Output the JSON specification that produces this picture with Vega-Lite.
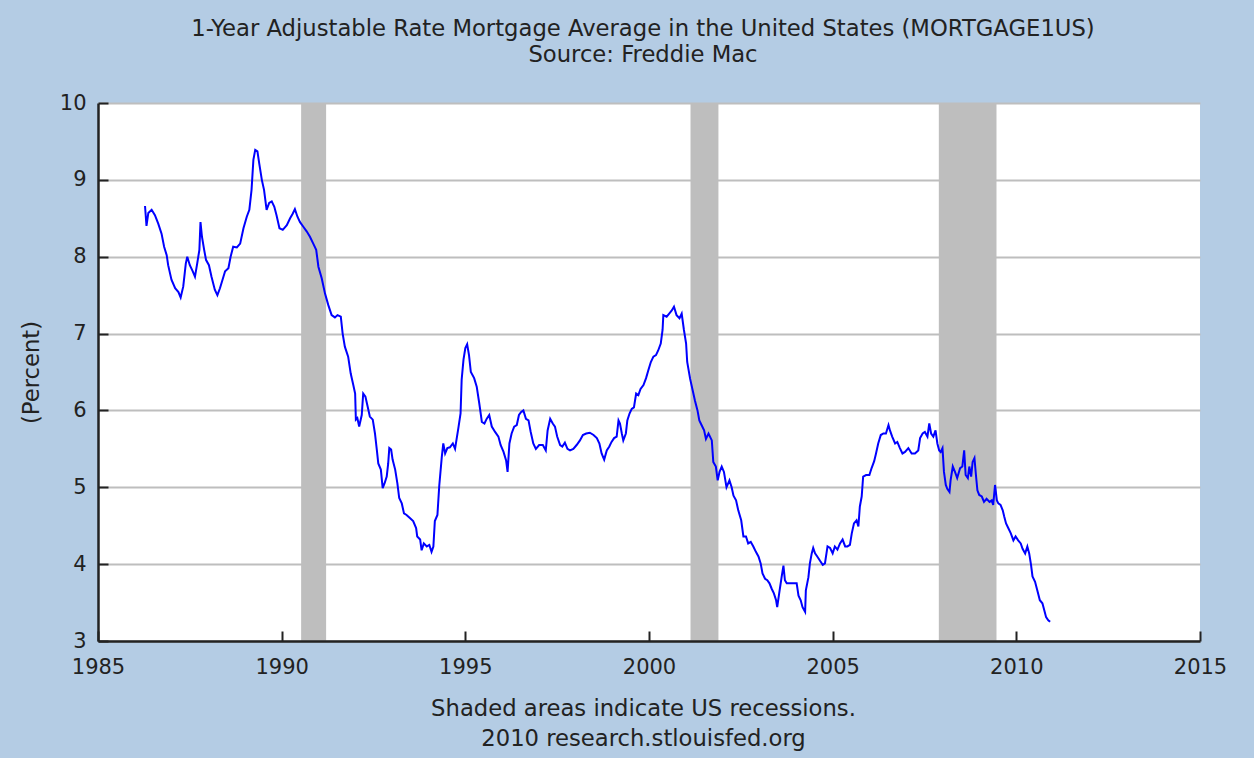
{
  "$schema": "https://vega.github.io/schema/vega-lite/v6.json",
  "width": 1102,
  "height": 538,
  "autosize": {"type": "none"},
  "padding": {"left": 98, "top": 103, "right": 54, "bottom": 117},
  "background": "#B4CCE4",
  "config": {"view": {"fill": "white", "stroke": null}, "font": "DejaVu Sans"},
  "title": {
    "text": "1-Year Adjustable Rate Mortgage Average in the United States (MORTGAGE1US)",
    "subtitle": "Source: Freddie Mac",
    "fontSize": 22.7, "subtitleFontSize": 22.7, "fontWeight": "normal",
    "font": "DejaVu Sans", "subtitleFont": "DejaVu Sans",
    "color": "#222222", "subtitleColor": "#222222",
    "anchor": "middle", "offset": 25, "subtitlePadding": 4, "dx": -6
  },
  "layer": [
    {
      "data": {"values": [
        {"start": 1990.53, "end": 1991.21},
        {"start": 2001.13, "end": 2001.89},
        {"start": 2007.89, "end": 2009.46}
      ]},
      "mark": {"type": "rect", "color": "#BEBEBE"},
      "encoding": {
        "x": {"field": "start", "type": "quantitative",
          "scale": {"domain": [1985, 2015], "nice": false, "zero": false},
          "axis": {"values": [1985, 1990, 1995, 2000, 2005, 2010, 2015], "format": "d", "grid": false,
            "tickSize": -10, "tickColor": "#222222", "tickWidth": 2,
            "domainColor": "#222222", "domainWidth": 2.5,
            "labelFontSize": 21, "labelColor": "#222222", "labelPadding": 25, "labelFlush": false,
            "title": ["Shaded areas indicate US recessions.", "2010 research.stlouisfed.org"],
            "titleFontSize": 22.7, "titleFontWeight": "normal", "titleColor": "#222222",
            "titleLineHeight": 30, "titlePadding": 20, "titleX": 545, "zindex": 1}},
        "x2": {"field": "end"}
      }
    },
    {
      "data": {"values": [
        {"t":1986.28,"v":8.66},{"t":1986.32,"v":8.40},{"t":1986.37,"v":8.57},{"t":1986.46,"v":8.61},{"t":1986.55,"v":8.54},
        {"t":1986.64,"v":8.43},{"t":1986.73,"v":8.30},{"t":1986.80,"v":8.13},{"t":1986.87,"v":8.02},{"t":1986.91,"v":7.89},
        {"t":1987.00,"v":7.70},{"t":1987.10,"v":7.59},{"t":1987.19,"v":7.54},{"t":1987.25,"v":7.47},{"t":1987.32,"v":7.61},
        {"t":1987.39,"v":7.91},{"t":1987.43,"v":8.00},{"t":1987.50,"v":7.89},{"t":1987.58,"v":7.81},{"t":1987.64,"v":7.74},
        {"t":1987.70,"v":7.91},{"t":1987.76,"v":8.09},{"t":1987.79,"v":8.45},{"t":1987.83,"v":8.26},{"t":1987.89,"v":8.09},
        {"t":1987.94,"v":7.96},{"t":1988.02,"v":7.89},{"t":1988.09,"v":7.74},{"t":1988.18,"v":7.57},{"t":1988.25,"v":7.50},
        {"t":1988.32,"v":7.59},{"t":1988.39,"v":7.70},{"t":1988.46,"v":7.81},{"t":1988.55,"v":7.85},{"t":1988.61,"v":8.00},
        {"t":1988.68,"v":8.13},{"t":1988.78,"v":8.12},{"t":1988.87,"v":8.17},{"t":1988.96,"v":8.37},{"t":1989.05,"v":8.52},
        {"t":1989.12,"v":8.61},{"t":1989.18,"v":8.87},{"t":1989.23,"v":9.26},{"t":1989.28,"v":9.39},{"t":1989.34,"v":9.37},
        {"t":1989.39,"v":9.21},{"t":1989.46,"v":9.00},{"t":1989.52,"v":8.87},{"t":1989.59,"v":8.61},{"t":1989.66,"v":8.70},
        {"t":1989.73,"v":8.72},{"t":1989.80,"v":8.65},{"t":1989.86,"v":8.54},{"t":1989.94,"v":8.37},{"t":1990.03,"v":8.35},
        {"t":1990.14,"v":8.41},{"t":1990.23,"v":8.50},{"t":1990.30,"v":8.56},{"t":1990.36,"v":8.62},{"t":1990.43,"v":8.52},
        {"t":1990.50,"v":8.45},{"t":1990.59,"v":8.39},{"t":1990.68,"v":8.33},{"t":1990.77,"v":8.26},{"t":1990.86,"v":8.17},
        {"t":1990.94,"v":8.09},{"t":1991.00,"v":7.87},{"t":1991.09,"v":7.72},{"t":1991.18,"v":7.52},{"t":1991.27,"v":7.37},
        {"t":1991.36,"v":7.24},{"t":1991.45,"v":7.21},{"t":1991.52,"v":7.24},{"t":1991.61,"v":7.22},{"t":1991.66,"v":7.00},
        {"t":1991.72,"v":6.83},{"t":1991.81,"v":6.70},{"t":1991.88,"v":6.48},{"t":1991.95,"v":6.33},{"t":1992.00,"v":6.22},
        {"t":1992.02,"v":5.88},{"t":1992.06,"v":5.90},{"t":1992.11,"v":5.79},{"t":1992.18,"v":5.94},{"t":1992.22,"v":6.22},
        {"t":1992.28,"v":6.18},{"t":1992.34,"v":6.05},{"t":1992.40,"v":5.92},{"t":1992.48,"v":5.88},{"t":1992.54,"v":5.70},
        {"t":1992.59,"v":5.49},{"t":1992.63,"v":5.31},{"t":1992.70,"v":5.23},{"t":1992.75,"v":4.99},{"t":1992.80,"v":5.05},
        {"t":1992.86,"v":5.14},{"t":1992.90,"v":5.31},{"t":1992.93,"v":5.51},{"t":1992.98,"v":5.49},{"t":1993.02,"v":5.36},
        {"t":1993.09,"v":5.23},{"t":1993.15,"v":5.05},{"t":1993.20,"v":4.86},{"t":1993.27,"v":4.79},{"t":1993.33,"v":4.66},
        {"t":1993.40,"v":4.64},{"t":1993.49,"v":4.60},{"t":1993.58,"v":4.56},{"t":1993.66,"v":4.47},{"t":1993.69,"v":4.36},
        {"t":1993.77,"v":4.32},{"t":1993.81,"v":4.18},{"t":1993.87,"v":4.27},{"t":1993.95,"v":4.23},{"t":1994.02,"v":4.25},
        {"t":1994.08,"v":4.16},{"t":1994.13,"v":4.23},{"t":1994.17,"v":4.56},{"t":1994.24,"v":4.64},{"t":1994.29,"v":5.02},
        {"t":1994.36,"v":5.40},{"t":1994.40,"v":5.57},{"t":1994.45,"v":5.44},{"t":1994.51,"v":5.51},{"t":1994.58,"v":5.52},
        {"t":1994.66,"v":5.57},{"t":1994.72,"v":5.50},{"t":1994.76,"v":5.62},{"t":1994.81,"v":5.77},{"t":1994.87,"v":5.96},
        {"t":1994.90,"v":6.40},{"t":1994.95,"v":6.66},{"t":1995.00,"v":6.81},{"t":1995.05,"v":6.86},{"t":1995.10,"v":6.72},
        {"t":1995.15,"v":6.50},{"t":1995.24,"v":6.42},{"t":1995.31,"v":6.31},{"t":1995.38,"v":6.09},{"t":1995.45,"v":5.85},
        {"t":1995.52,"v":5.83},{"t":1995.58,"v":5.89},{"t":1995.65,"v":5.94},{"t":1995.72,"v":5.79},{"t":1995.81,"v":5.72},
        {"t":1995.90,"v":5.66},{"t":1995.96,"v":5.55},{"t":1996.04,"v":5.46},{"t":1996.11,"v":5.35},{"t":1996.15,"v":5.20},
        {"t":1996.20,"v":5.57},{"t":1996.26,"v":5.70},{"t":1996.33,"v":5.79},{"t":1996.40,"v":5.81},{"t":1996.46,"v":5.94},
        {"t":1996.52,"v":5.98},{"t":1996.58,"v":6.00},{"t":1996.65,"v":5.89},{"t":1996.72,"v":5.87},{"t":1996.78,"v":5.72},
        {"t":1996.85,"v":5.57},{"t":1996.92,"v":5.50},{"t":1997.01,"v":5.55},{"t":1997.11,"v":5.55},{"t":1997.19,"v":5.48},
        {"t":1997.24,"v":5.74},{"t":1997.31,"v":5.89},{"t":1997.38,"v":5.83},{"t":1997.44,"v":5.79},{"t":1997.50,"v":5.66},
        {"t":1997.58,"v":5.55},{"t":1997.64,"v":5.53},{"t":1997.71,"v":5.58},{"t":1997.78,"v":5.50},{"t":1997.85,"v":5.48},
        {"t":1997.94,"v":5.50},{"t":1998.03,"v":5.55},{"t":1998.12,"v":5.61},{"t":1998.20,"v":5.68},{"t":1998.29,"v":5.70},
        {"t":1998.39,"v":5.71},{"t":1998.49,"v":5.68},{"t":1998.58,"v":5.64},{"t":1998.65,"v":5.57},{"t":1998.71,"v":5.44},
        {"t":1998.78,"v":5.36},{"t":1998.85,"v":5.48},{"t":1998.92,"v":5.53},{"t":1998.98,"v":5.59},{"t":1999.05,"v":5.64},
        {"t":1999.12,"v":5.66},{"t":1999.17,"v":5.87},{"t":1999.21,"v":5.83},{"t":1999.26,"v":5.70},{"t":1999.30,"v":5.61},
        {"t":1999.37,"v":5.70},{"t":1999.41,"v":5.87},{"t":1999.47,"v":5.96},{"t":1999.53,"v":6.02},{"t":1999.59,"v":6.04},
        {"t":1999.65,"v":6.22},{"t":1999.71,"v":6.20},{"t":1999.77,"v":6.28},{"t":1999.85,"v":6.33},{"t":1999.92,"v":6.42},
        {"t":1999.98,"v":6.52},{"t":2000.05,"v":6.63},{"t":2000.12,"v":6.70},{"t":2000.19,"v":6.72},{"t":2000.25,"v":6.78},
        {"t":2000.32,"v":6.87},{"t":2000.37,"v":7.05},{"t":2000.39,"v":7.24},{"t":2000.48,"v":7.22},{"t":2000.55,"v":7.26},
        {"t":2000.62,"v":7.30},{"t":2000.68,"v":7.35},{"t":2000.75,"v":7.24},{"t":2000.83,"v":7.20},{"t":2000.89,"v":7.26},
        {"t":2000.95,"v":7.05},{"t":2001.01,"v":6.87},{"t":2001.04,"v":6.63},{"t":2001.12,"v":6.41},{"t":2001.19,"v":6.26},
        {"t":2001.25,"v":6.13},{"t":2001.32,"v":6.00},{"t":2001.37,"v":5.87},{"t":2001.43,"v":5.81},{"t":2001.50,"v":5.74},
        {"t":2001.55,"v":5.63},{"t":2001.62,"v":5.70},{"t":2001.71,"v":5.61},{"t":2001.75,"v":5.33},{"t":2001.82,"v":5.27},
        {"t":2001.87,"v":5.09},{"t":2001.92,"v":5.20},{"t":2001.98,"v":5.27},{"t":2002.04,"v":5.20},{"t":2002.11,"v":5.00},
        {"t":2002.19,"v":5.09},{"t":2002.25,"v":5.00},{"t":2002.30,"v":4.89},{"t":2002.37,"v":4.83},{"t":2002.43,"v":4.70},
        {"t":2002.51,"v":4.57},{"t":2002.57,"v":4.36},{"t":2002.64,"v":4.36},{"t":2002.70,"v":4.27},{"t":2002.77,"v":4.29},
        {"t":2002.84,"v":4.23},{"t":2002.91,"v":4.16},{"t":2002.98,"v":4.10},{"t":2003.04,"v":4.01},{"t":2003.09,"v":3.88},
        {"t":2003.16,"v":3.81},{"t":2003.22,"v":3.79},{"t":2003.28,"v":3.75},{"t":2003.34,"v":3.68},{"t":2003.40,"v":3.62},
        {"t":2003.46,"v":3.53},{"t":2003.49,"v":3.44},{"t":2003.55,"v":3.64},{"t":2003.61,"v":3.83},{"t":2003.66,"v":3.98},
        {"t":2003.70,"v":3.79},{"t":2003.75,"v":3.75},{"t":2003.84,"v":3.75},{"t":2003.93,"v":3.75},{"t":2004.02,"v":3.75},
        {"t":2004.07,"v":3.59},{"t":2004.13,"v":3.53},{"t":2004.18,"v":3.44},{"t":2004.25,"v":3.38},{"t":2004.27,"v":3.66},
        {"t":2004.34,"v":3.83},{"t":2004.38,"v":4.01},{"t":2004.43,"v":4.14},{"t":2004.47,"v":4.21},{"t":2004.52,"v":4.14},
        {"t":2004.58,"v":4.10},{"t":2004.66,"v":4.04},{"t":2004.73,"v":3.99},{"t":2004.79,"v":4.01},{"t":2004.86,"v":4.23},
        {"t":2004.93,"v":4.21},{"t":2005.00,"v":4.14},{"t":2005.06,"v":4.23},{"t":2005.13,"v":4.19},{"t":2005.20,"v":4.27},
        {"t":2005.27,"v":4.32},{"t":2005.34,"v":4.23},{"t":2005.40,"v":4.23},{"t":2005.47,"v":4.25},{"t":2005.52,"v":4.40},
        {"t":2005.58,"v":4.53},{"t":2005.65,"v":4.57},{"t":2005.70,"v":4.49},{"t":2005.74,"v":4.75},{"t":2005.79,"v":4.88},
        {"t":2005.83,"v":5.14},{"t":2005.91,"v":5.16},{"t":2006.00,"v":5.16},{"t":2006.06,"v":5.25},{"t":2006.13,"v":5.34},
        {"t":2006.18,"v":5.44},{"t":2006.24,"v":5.57},{"t":2006.31,"v":5.68},{"t":2006.38,"v":5.70},{"t":2006.45,"v":5.70},
        {"t":2006.52,"v":5.81},{"t":2006.56,"v":5.74},{"t":2006.62,"v":5.66},{"t":2006.70,"v":5.57},{"t":2006.76,"v":5.59},
        {"t":2006.83,"v":5.51},{"t":2006.90,"v":5.44},{"t":2006.97,"v":5.46},{"t":2007.06,"v":5.51},{"t":2007.15,"v":5.44},
        {"t":2007.24,"v":5.44},{"t":2007.33,"v":5.48},{"t":2007.38,"v":5.64},{"t":2007.45,"v":5.70},{"t":2007.51,"v":5.72},
        {"t":2007.58,"v":5.66},{"t":2007.63,"v":5.83},{"t":2007.68,"v":5.70},{"t":2007.74,"v":5.66},{"t":2007.80,"v":5.74},
        {"t":2007.85,"v":5.57},{"t":2007.90,"v":5.48},{"t":2007.94,"v":5.46},{"t":2007.99,"v":5.51},{"t":2008.03,"v":5.20},
        {"t":2008.08,"v":5.03},{"t":2008.12,"v":4.98},{"t":2008.18,"v":4.94},{"t":2008.21,"v":5.09},{"t":2008.27,"v":5.27},
        {"t":2008.33,"v":5.20},{"t":2008.39,"v":5.12},{"t":2008.47,"v":5.25},{"t":2008.53,"v":5.27},{"t":2008.58,"v":5.48},
        {"t":2008.62,"v":5.16},{"t":2008.68,"v":5.12},{"t":2008.72,"v":5.27},{"t":2008.77,"v":5.14},{"t":2008.81,"v":5.33},
        {"t":2008.86,"v":5.38},{"t":2008.90,"v":5.16},{"t":2008.94,"v":4.96},{"t":2008.99,"v":4.90},{"t":2009.06,"v":4.88},
        {"t":2009.12,"v":4.81},{"t":2009.19,"v":4.85},{"t":2009.27,"v":4.81},{"t":2009.33,"v":4.83},{"t":2009.37,"v":4.77},
        {"t":2009.42,"v":5.03},{"t":2009.47,"v":4.83},{"t":2009.51,"v":4.79},{"t":2009.57,"v":4.77},{"t":2009.63,"v":4.70},
        {"t":2009.67,"v":4.62},{"t":2009.72,"v":4.53},{"t":2009.78,"v":4.47},{"t":2009.85,"v":4.40},{"t":2009.92,"v":4.31},
        {"t":2009.98,"v":4.36},{"t":2010.05,"v":4.31},{"t":2010.12,"v":4.27},{"t":2010.17,"v":4.20},{"t":2010.24,"v":4.14},
        {"t":2010.30,"v":4.23},{"t":2010.35,"v":4.14},{"t":2010.40,"v":3.99},{"t":2010.44,"v":3.84},{"t":2010.51,"v":3.77},
        {"t":2010.57,"v":3.66},{"t":2010.64,"v":3.53},{"t":2010.71,"v":3.49},{"t":2010.75,"v":3.42},{"t":2010.81,"v":3.31},
        {"t":2010.87,"v":3.27},{"t":2010.92,"v":3.25}
      ]},
      "mark": {"type": "line", "color": "#0000FF", "strokeWidth": 2},
      "encoding": {
        "x": {"field": "t", "type": "quantitative",
          "scale": {"domain": [1985, 2015], "nice": false, "zero": false},
          "axis": {"values": [1985, 1990, 1995, 2000, 2005, 2010, 2015], "format": "d", "grid": false,
            "tickSize": -10, "tickColor": "#222222", "tickWidth": 2,
            "domainColor": "#222222", "domainWidth": 2.5,
            "labelFontSize": 21, "labelColor": "#222222", "labelPadding": 25, "labelFlush": false,
            "title": ["Shaded areas indicate US recessions.", "2010 research.stlouisfed.org"],
            "titleFontSize": 22.7, "titleFontWeight": "normal", "titleColor": "#222222",
            "titleLineHeight": 30, "titlePadding": 20, "titleX": 545, "zindex": 1}},
        "y": {"field": "v", "type": "quantitative",
          "scale": {"domain": [3, 10], "nice": false, "zero": false},
          "axis": {"values": [3, 4, 5, 6, 7, 8, 9, 10], "grid": true, "gridColor": "#BEBEBE", "gridWidth": 2,
            "tickSize": -10, "tickColor": "#222222", "tickWidth": 2,
            "domainColor": "#222222", "domainWidth": 2.5,
            "labelFontSize": 21, "labelColor": "#222222", "labelPadding": 22, "labelFlush": false,
            "title": "(Percent)", "titleFontSize": 22.7, "titleFontWeight": "normal", "titleColor": "#222222",
            "titlePadding": 16}}
      }
    }
  ]
}
